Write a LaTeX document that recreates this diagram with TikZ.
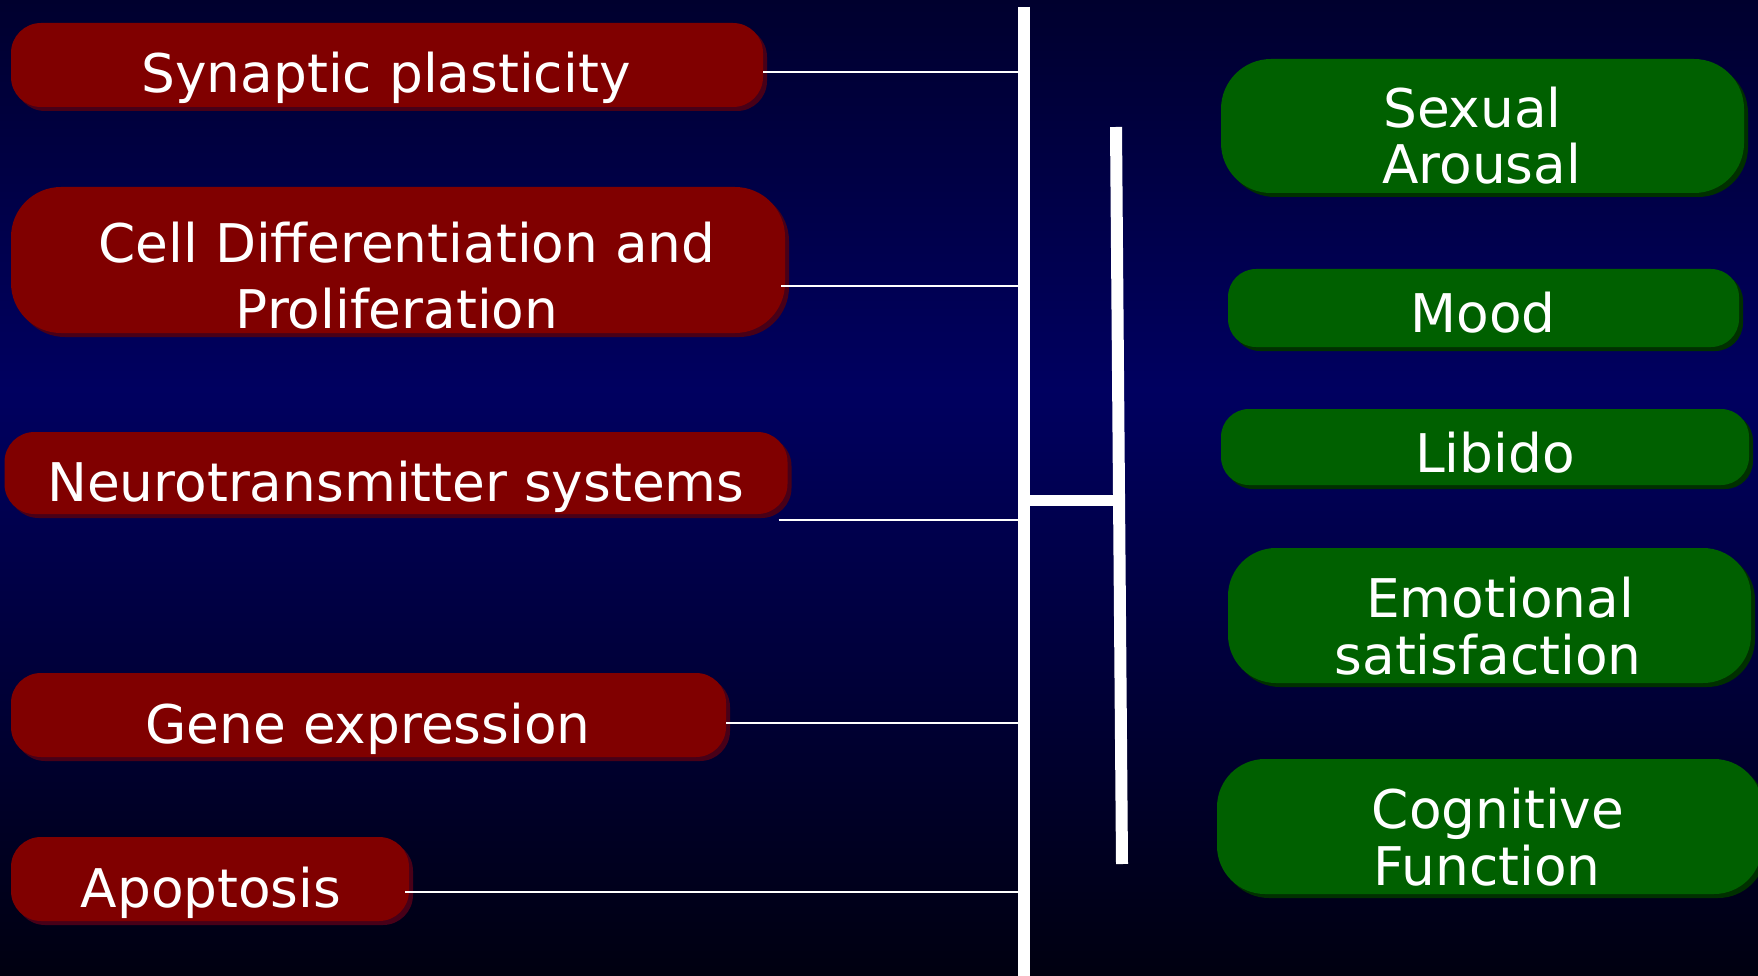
\documentclass[tikz,border=0pt]{standalone}
\usepackage{fontspec}
\setmainfont{DejaVu Sans}
\usetikzlibrary{shadows}
\definecolor{bgtop}{RGB}{0,0,46}
\definecolor{bgmid}{RGB}{0,0,96}
\definecolor{bgbot}{RGB}{0,0,16}
\definecolor{boxred}{RGB}{128,0,0}
\definecolor{boxgreen}{RGB}{0,96,0}
\definecolor{redshade}{RGB}{72,0,24}
\definecolor{greenshade}{RGB}{0,48,0}
\tikzset{
  box/.style={inner sep=0pt, draw=none},
  redbox/.style={box, fill=boxred, drop shadow={shadow xshift=4pt, shadow yshift=-4pt, fill=redshade, opacity=1}},
  greenbox/.style={box, fill=boxgreen, drop shadow={shadow xshift=4pt, shadow yshift=-4pt, fill=greenshade, opacity=1}},
  lbl/.style={inner sep=0pt, text=white, font=\fontsize{53.3pt}{58pt}\selectfont, anchor=base},
  thinline/.style={draw=white, line width=2pt},
  barline/.style={draw=white, line width=12pt},
}
\begin{document}
\begin{tikzpicture}[x=1pt,y=-1pt]
\useasboundingbox (0,0) rectangle (1758,976);
\shade[top color=bgtop, bottom color=bgmid] (0,0) rectangle (1758,390);
\shade[top color=bgmid, bottom color=bgbot] (0,389) rectangle (1758,976);

% red boxes
\node[redbox, minimum width=752pt, minimum height=84pt, rounded corners=30pt] (syn) at (387,65) {};
\node[redbox, minimum width=774pt, minimum height=146pt, rounded corners=50pt] (cell) at (398,260) {};
\node[redbox, minimum width=783pt, minimum height=82pt, rounded corners=30pt] (neuro) at (396,473) {};
\node[redbox, minimum width=715pt, minimum height=84pt, rounded corners=30pt] (gene) at (368.5,715) {};
\node[redbox, minimum width=398pt, minimum height=84pt, rounded corners=30pt] (apo) at (210,879) {};

% green boxes
\node[greenbox, minimum width=523pt, minimum height=134pt, rounded corners=50pt] (sex) at (1482.5,126) {};
\node[greenbox, minimum width=511pt, minimum height=78pt, rounded corners=28pt] (mood) at (1483.5,308) {};
\node[greenbox, minimum width=528pt, minimum height=76pt, rounded corners=28pt] (lib) at (1485,447) {};
\node[greenbox, minimum width=523pt, minimum height=135pt, rounded corners=48pt] (emo) at (1489.5,615.5) {};
\node[greenbox, minimum width=545pt, minimum height=135pt, rounded corners=48pt] (cog) at (1489.5,826.5) {};

% labels
\node[lbl] (tsyn) at (386,93) {Synaptic plasticity};
\node[lbl] (tcell1) at (407,263) {Cell Differentiation and};
\node[lbl] (tcell2) at (397,328) {Proliferation};
\node[lbl] (tneuro) at (396,501) {Neurotransmitter systems};
\node[lbl] (tgene) at (368,743) {Gene expression};
\node[lbl] (tapo) at (211,907) {Apoptosis};
\node[lbl, anchor=base west] (tsex1) at (1383,128) {Sexual};
\node[lbl, anchor=base west] (tsex2) at (1382,184) {Arousal};
\node[lbl] (tmood) at (1483,332) {Mood};
\node[lbl] (tlib) at (1495,472) {Libido};
\node[lbl] (temo1) at (1500,617) {Emotional};
\node[lbl] (temo2) at (1488,674) {satisfaction};
\node[lbl] (tcog1) at (1498,828) {Cognitive};
\node[lbl] (tcog2) at (1487,885) {Function};

% trunk and bracket
\coordinate (ttop) at (1024,7);
\coordinate (tbot) at (1024,976);
\coordinate (btop) at (1116,127);
\coordinate (bbot) at (1122,864);
\coordinate (tj) at (1024,500);
\coordinate (bj) at (1119,500);

% connectors
\coordinate (c1) at ([yshift=-7pt]syn.east);
\coordinate (c2) at ([xshift=-4pt,yshift=-26pt]cell.east);
\coordinate (c3) at ([xshift=-9pt,yshift=-6pt]neuro.south east);
\coordinate (c4) at ([yshift=-8pt]gene.east);
\coordinate (c5) at ([xshift=-4pt,yshift=-13pt]apo.east);
\draw[thinline] (c1) -- (c1 -| ttop);
\draw[thinline] (c2) -- (c2 -| ttop);
\draw[thinline] (c3) -- (c3 -| ttop);
\draw[thinline] (c4) -- (c4 -| ttop);
\draw[thinline] (c5) -- (c5 -| ttop);

\draw[barline] (ttop) -- (tbot);
\draw[barline] (btop) -- (bbot);
\draw[white, line width=11pt] (tj) -- (bj);
\end{tikzpicture}
\end{document}
